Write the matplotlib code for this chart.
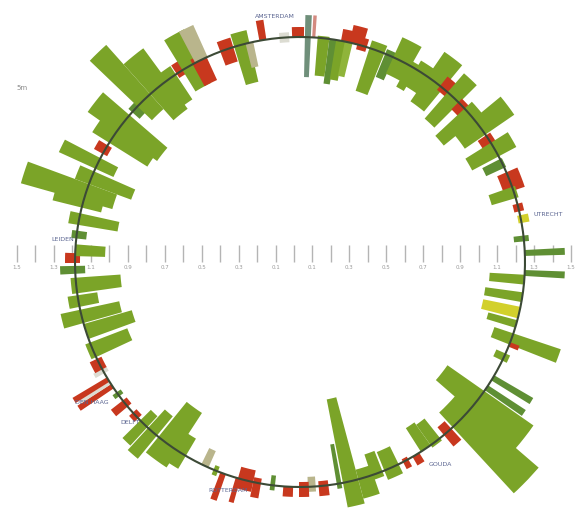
import numpy as np
import matplotlib
matplotlib.use("Agg")
import matplotlib.pyplot as plt

# radius of the ring (in pixel-like units)
R = 225

# bars around the ring: compass angle (deg, clockwise from top), width (deg),
# length inside the ring, length outside the ring, colour key
angles = [2, 359.5, 350.5, 356, 3.5, 6, 8.5, 10.5, 12.5, 12, 14.5, 16, 20, 23.5, 27, 30,
          33, 37, 40, 43, 46, 49, 53, 57, 60, 64, 69, 72, 76, 79, 84, 87.7, 92.8, 94.5,
          99, 103, 106, 110, 111.5, 115, 121, 124, 128, 134, 139, 143, 146, 149, 152,
          156, 160, 163, 167, 170, 174, 177, 179, 183, 187, 191, 194, 196, 200, 202,
          205, 212, 216, 221, 224, 227, 231, 234, 236.5, 237.5, 238.5, 241, 243, 247,
          252, 256, 260, 264, 268, 271, 273, 277, 281, 285, 288, 292, 296, 300, 304,
          308, 313, 316, 321, 325, 328, 331, 333.5, 334, 341, 345, 347]
widths = [1.5, 3, 1.8, 2.5, 0.8, 3, 2, 2.5, 2, 3, 3.5, 2.5, 4, 2.5, 5, 2.5,
          4, 5, 3, 4, 2.5, 4, 5, 2.5, 4, 2.5, 5, 3, 2, 2, 1.5, 1.5, 1.5, 2.5,
          2.5, 3, 2, 3, 1.2, 2, 1.5, 1.5, 6, 6.5, 2.5, 3, 3, 2, 1.5,
          4, 3, 4, 4, 1.2, 2.5, 2, 2.5, 2.5, 1.2, 2, 4, 1.2, 1.5, 1.2,
          2, 3, 6, 3, 2.5, 2, 2, 1.2, 1.3, 0.8, 1.3, 1.2, 3, 4,
          4, 3.5, 3, 4, 2, 2.5, 3, 2, 3, 2, 4.5, 3.5, 3, 2.5, 4,
          5.5, 2.5, 4.5, 5.5, 3, 2.5, 5, 4, 3.5, 3.5, 4, 2]
inner = [40, 0, 0, 5, 0, 38, 45, 40, 35, 0, 0, 5, 45, 25, 18, 25,
         20, 30, 5, 35, 10, 40, 25, 10, 30, 20, 10, 25, 5, 3, 10, 0, 0, 35,
         38, 38, 30, 20, 0, 10, 0, 0, 45, 20, 10, 25, 28, 0, 3,
         20, 22, 10, 85, 40, 5, 10, 5, 0, 10, 5, 12, 0, 0, 5,
         18, 20, 45, 25, 15, 5, 5, 5, 0, 0, 0, 5, 5, 40,
         50, 40, 20, 45, 10, 5, 30, 10, 40, 20, 30, 45, 20, 5, 45,
         50, 10, 20, 35, 30, 5, 25, 25, 0, 15, 40, 25]
outer = [22, 10, 20, 5, 22, 2, 0, 0, 0, 12, 18, 8, 8, 5, 22, 5,
         10, 30, 12, 25, 5, 10, 35, 5, 20, 2, 12, 3, 5, 8, 5, 40, 40, 0,
         0, 0, 0, 50, 10, 5, 45, 45, 60, 95, 15, 3, 0, 10, 8,
         10, 5, 20, 25, 5, 10, 5, 10, 10, 5, 15, 10, 25, 28, 5,
         0, 15, 20, 30, 25, 5, 15, 5, 40, 35, 40, 10, 8, 5,
         0, 20, 10, 5, 15, 10, 0, 5, 10, 30, 65, 15, 40, 10, 20,
         35, 5, 66, 40, 10, 10, 35, 5, 35, 10, 13, 0]
kinds = ["t", "r", "r", "l", "p", "g", "g2", "g", "g3", "r", "r", "r", "g", "g2", "g", "g",
         "g", "g", "r", "g", "r", "g", "g", "r", "g", "g2", "r", "g", "r", "y", "g2", "g2", "g2", "g",
         "g", "y", "g", "g", "r", "g", "g2", "g2", "g", "g", "r", "g", "g", "r", "r",
         "g", "g", "g", "g", "g2", "r", "k", "r", "r", "g2", "r", "r", "r", "r", "g",
         "k", "g", "g", "g", "g", "r", "r", "g2", "r", "l", "r", "l", "r", "g",
         "g", "g", "g", "g", "g2", "r", "g", "g2", "g", "g", "g", "g", "g", "r", "g",
         "g", "g2", "g", "g", "g", "r", "g", "r", "k", "r", "g", "k"]

palette = {"g": "#7ba428", "g2": "#5f8f34", "g3": "#8fb43a", "r": "#c8381e",
           "k": "#b9b58c", "l": "#dcdcd2", "y": "#d2d02c", "t": "#6f8f7a",
           "p": "#d38a80"}

city_names = ["AMSTERDAM", "UTRECHT", "GOUDA", "ROTTERDAM", "DELFT", "DEN HAAG", "LEIDEN"]
city_x = [275, 548, 440, 228, 130, 92, 63]
city_y = [16, 215, 465, 491, 423, 402, 239]

tick_vals = list(range(-15, 16))
tick_labels = ["1.5", "", "1.3", "", "1.1", "", "0.9", "", "0.7", "", "0.5", "", "0.3", "", "0.1", "",
               "0.1", "", "0.3", "", "0.5", "", "0.7", "", "0.9", "", "1.1", "", "1.3", "", "1.5"]

W, H = 587, 518
fig = plt.figure(figsize=(W / 100, H / 100), dpi=100)
fig.patch.set_facecolor("white")

# horizontal scale across the middle
ax2 = fig.add_axes([17 / W, (H - 262) / H, (571 - 17) / W, 0.0001])
ax2.set_xlim(-15, 15)
ax2.set_xticks(tick_vals)
ax2.set_xticklabels(tick_labels)
ax2.set_yticks([])
for s in ax2.spines.values():
    s.set_visible(False)
ax2.tick_params(axis="x", direction="in", length=12, width=1, color="#b4b4b4",
                labelsize=4, labelcolor="#9a9a9a", pad=2)

# ring of bars
cx, cy, rmax = 300, 262, 315
ax = fig.add_axes([(cx - rmax) / W, (H - cy - rmax) / H, 2 * rmax / W, 2 * rmax / H],
                  projection="polar")
ax.set_theta_zero_location("N")
ax.set_theta_direction(-1)
ax.set_ylim(0, rmax)

inn = np.array(inner)
out = np.array(outer)
ax.bar(np.radians(angles), inn + out, width=np.radians(widths), bottom=R - inn,
       color=[palette[k] for k in kinds], edgecolor="none", align="center", zorder=2)

th = np.linspace(0, 2 * np.pi, 500)
ax.plot(th, np.full_like(th, R), color="#3c4a36", lw=1.5, zorder=3)
ax.set_axis_off()

for name, x, y in zip(city_names, city_x, city_y):
    fig.text(x / W, 1 - y / H, name, fontsize=4.5, color="#5a6490",
             ha="center", va="center")
fig.text(22 / W, 1 - 88 / H, "5m", fontsize=5, color="#8a8a8a", ha="center", va="center")

fig.savefig("out.png", dpi=100, facecolor="white")
